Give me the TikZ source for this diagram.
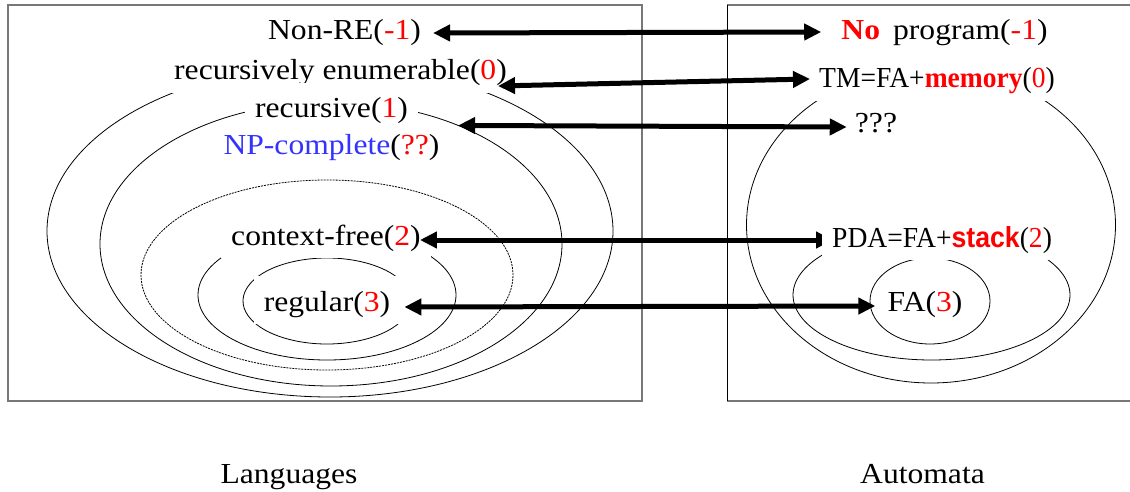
\documentclass[tikz,border=0pt]{standalone}
\usepackage{fontspec}
\setmainfont{Liberation Serif}[FakeStretch=1.09]
\newfontfamily\narrowserif{Liberation Serif}[FakeStretch=0.95]
\newfontfamily\sanslab{Liberation Sans}[FakeStretch=0.92]
\usetikzlibrary{arrows.meta,shapes.geometric}
\definecolor{npblue}{RGB}{51,51,255}
\definecolor{boxgray}{RGB}{120,120,120}
\pgfdeclarelayer{front}
\pgfsetlayers{main,front}
\begin{document}
\begin{tikzpicture}[x=1pt,y=-1pt,
  lab/.style={font=\fontsize{29}{34}\selectfont, inner xsep=10pt, inner ysep=5pt, text height=30pt, text depth=8pt, anchor=base},
  cover/.style={lab, fill=white},
  narrowcover/.style={cover, font=\fontsize{29}{34}\selectfont\narrowserif},
  ell/.style={ellipse, draw, line width=0.8pt, inner sep=0pt, outer sep=0pt},
  dashell/.style={ell, dash pattern=on 2pt off 1pt},
  dual/.style={line width=5pt, {Triangle[length=17pt,width=16pt]}-{Triangle[length=17pt,width=16pt]}},
  frame/.style={draw=boxgray, line width=1.5pt}]

\useasboundingbox (0,0) rectangle (1130,492);

% frames
\draw[frame] (8,5) rectangle (642,401);
\draw[frame] (1132,5) -- (727,5);
\draw[frame] (727,401) -- (1132,401);
\draw[line width=1pt] (727,5) -- (727,401);

% language ellipses
\node[ell, minimum width=566pt, minimum height=332pt] (reell) at (330,231) {};
\node[ell, minimum width=462pt, minimum height=284pt] (rec) at (331,244) {};
\node[dashell, minimum width=372pt, minimum height=190pt] (cfd) at (327,275) {};
\node[ell, minimum width=258pt, minimum height=130pt] (cfell) at (327,295) {};
\draw[line width=0.8pt] (327,301) ++(30:84 and 43) arc[start angle=30, end angle=330, x radius=84, y radius=43];

% automata ellipses
\node[ell, minimum width=369pt, minimum height=316pt] (tmell) at (931,225) {};
\node[ell, minimum width=277pt, minimum height=130pt] (pdaell) at (931.5,295) {};
\node[ell, minimum width=120pt, minimum height=86pt] (faell) at (930,301) {};

% language labels
\node[lab] (nonre) at (344.5,40) {Non-RE(\textcolor{red}{-1})};
\node[cover] (re) at (340.5,80) {recursively enumerable(\textcolor{red}{0})};
\node[cover] (recl) at (331.5,118) {recursive(\textcolor{red}{1})};
\node[lab] (np) at (331.5,155) {\textcolor{npblue}{NP-complete}(\textcolor{red}{??})};
\node[cover] (cf) at (326,245) {context-free(\textcolor{red}{2})};
\node[cover] (reg) at (327,311) {regular(\textcolor{red}{3})};

% automata labels
\node[lab] (noprog) at (944.5,40) {\textbf{\textcolor{red}{No}}\hspace{0.45em}program(\textcolor{red}{-1})};
\node[narrowcover] (tm) at (937,88) {TM=FA+\textbf{\textcolor{red}{memory}}(\textcolor{red}{0})};
\node[lab] (qqq) at (876,133) {???};
\begin{pgfonlayer}{front}
\node[narrowcover, anchor=base west] (pda) at (822,247) {PDA=FA+{\sanslab\bfseries\textcolor{red}{stack}}(\textcolor{red}{2})};
\end{pgfonlayer}
\node[lab] (fa) at (925,311) {FA(\textcolor{red}{3})};

% captions
\node[lab] (langs) at (289,483.5) {Languages};
\node[lab] (autos) at (922.5,483.5) {Automata};

% correspondences
\draw[dual] ([xshift=2pt,yshift=-4pt]nonre.east) -- ([xshift=-10pt,yshift=-3pt]noprog.west);
\draw[dual] ([xshift=-19pt,yshift=-17pt]re.east) -- ([xshift=1pt,yshift=-2pt]tm.west);
\draw[dual] (rec.43) -- ([xshift=2pt,yshift=-5pt]qqq.west);
\draw[dual] ([xshift=-11pt,yshift=-6pt]cf.east) -- ([xshift=11pt,yshift=-4pt]pda.west);
\draw[dual] ([xshift=4pt,yshift=-7pt]reg.east) -- ([xshift=-2pt,yshift=-6pt]fa.west);
\end{tikzpicture}
\end{document}
